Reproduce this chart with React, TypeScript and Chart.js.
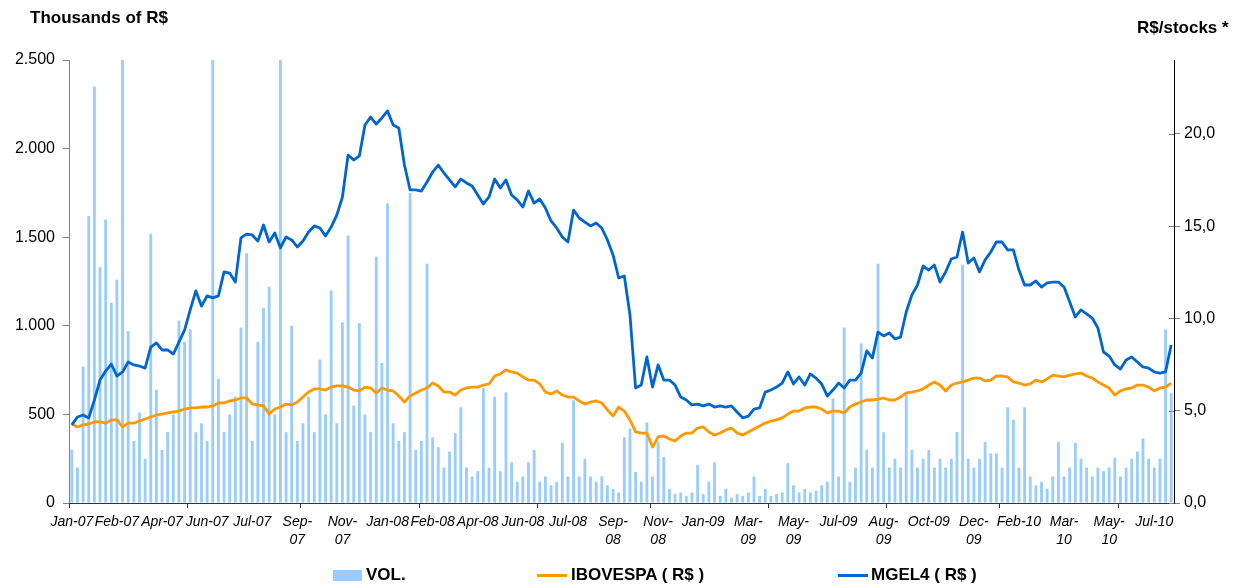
import React, { useEffect, useRef } from 'react';
import { Chart, registerables } from 'chart.js';

Chart.register(...registerables);

const FONT = "'Liberation Sans', Arial, Helvetica, sans-serif";

// x-axis category labels, one every LABEL_EVERY points
const tickLabels = [
  'Jan-07', 'Feb-07', 'Apr-07', 'Jun-07', 'Jul-07', 'Sep-\n07', 'Nov-\n07',
  'Jan-08', 'Feb-08', 'Apr-08', 'Jun-08', 'Jul-08', 'Sep-\n08', 'Nov-\n08',
  'Jan-09', 'Mar-\n09', 'May-\n09', 'Jul-09', 'Aug-\n09', 'Oct-09', 'Dec-\n09',
  'Feb-10', 'Mar-\n10', 'May-\n10', 'Jul-10',
];
const LABEL_EVERY = 8;

// indices where Excel-style tick marks sit on the category axis
const axisTickMarks = [0, 21, 41, 62, 83, 103, 124, 145, 165, 186];

// Volume, thousands of R$
const volume = [
  300, 200, 770, 1620, 2350, 1330, 1600, 1130, 1260, 2600,
  970, 350, 510, 250, 1520, 640, 300, 400, 500, 1030,
  910, 980, 400, 450, 350, 2600, 700, 400, 500, 600,
  990, 1410, 350, 910, 1100, 1220, 500, 2600, 400, 1000,
  350, 450, 600, 400, 810, 500, 1200, 450, 1020, 1510,
  550, 1015, 500, 400, 1390, 790, 1690, 450, 350, 400,
  1750, 300, 350, 1350, 370, 315, 200, 290, 395, 540,
  200, 150, 180, 650, 200, 600, 180, 625, 230, 120,
  150, 230, 300, 120, 150, 100, 120, 340, 150, 580,
  150, 250, 150, 120, 150, 100, 80, 60, 370, 420,
  175, 120, 455, 150, 345, 260, 80, 50, 60, 40,
  60, 215, 50, 120, 230, 40, 80, 30, 50, 40,
  60, 150, 40, 80, 40, 50, 60, 225, 100, 60,
  80, 60, 70, 100, 120, 590, 150, 990, 120, 200,
  900, 300, 200, 1350, 400, 200, 250, 200, 615, 300,
  200, 250, 300, 200, 250, 200, 250, 400, 1345, 250,
  200, 250, 345, 280, 280, 200, 540, 470, 200, 540,
  150, 100, 120, 80, 150, 345, 150, 200, 340, 250,
  200, 150, 200, 180, 200, 255, 150, 200, 250, 290,
  365, 250, 200, 250, 980, 620,
];

// IBOVESPA rebased, R$
const ibovespa = [
  4.28, 4.12, 4.23, 4.28, 4.39, 4.39, 4.33, 4.50, 4.50, 4.12,
  4.33, 4.33, 4.44, 4.55, 4.66, 4.77, 4.82, 4.88, 4.93, 4.98,
  5.09, 5.15, 5.15, 5.20, 5.20, 5.26, 5.42, 5.42, 5.53, 5.58,
  5.69, 5.69, 5.36, 5.31, 5.26, 4.82, 5.09, 5.20, 5.36, 5.31,
  5.47, 5.74, 6.01, 6.18, 6.18, 6.12, 6.28, 6.34, 6.34, 6.28,
  6.12, 6.07, 6.28, 6.23, 5.96, 6.23, 6.12, 6.07, 5.80, 5.47,
  5.80, 5.96, 6.12, 6.23, 6.50, 6.34, 6.01, 6.01, 5.85, 6.12,
  6.23, 6.28, 6.28, 6.39, 6.45, 6.88, 6.99, 7.21, 7.10, 7.04,
  6.83, 6.66, 6.66, 6.45, 6.01, 5.91, 6.07, 5.85, 5.74, 5.74,
  5.53, 5.36, 5.47, 5.53, 5.42, 5.04, 4.71, 5.20, 4.98, 4.50,
  3.85, 3.79, 3.79, 3.03, 3.58, 3.63, 3.47, 3.36, 3.63, 3.79,
  3.79, 4.06, 4.12, 3.85, 3.68, 3.79, 3.96, 4.06, 3.79, 3.68,
  3.85, 4.01, 4.17, 4.33, 4.44, 4.50, 4.61, 4.82, 4.98, 4.98,
  5.15, 5.20, 5.20, 5.09, 4.88, 4.98, 4.98, 4.88, 5.20, 5.36,
  5.47, 5.58, 5.58, 5.63, 5.69, 5.58, 5.58, 5.74, 5.96, 6.01,
  6.07, 6.18, 6.39, 6.56, 6.39, 6.07, 6.39, 6.50, 6.56, 6.66,
  6.77, 6.77, 6.61, 6.66, 6.88, 6.88, 6.83, 6.56, 6.50, 6.39,
  6.45, 6.66, 6.56, 6.72, 6.93, 6.88, 6.83, 6.93, 6.99, 7.04,
  6.88, 6.77, 6.56, 6.39, 6.23, 5.85, 6.07, 6.18, 6.23, 6.39,
  6.39, 6.28, 6.07, 6.23, 6.28, 6.50,
];

// MGEL4 share price, R$
const mgel4 = [
  4.23, 4.66, 4.77, 4.61, 5.58, 6.66, 7.15, 7.53, 6.88, 7.10,
  7.64, 7.48, 7.42, 7.31, 8.45, 8.67, 8.29, 8.29, 8.07, 8.72,
  9.37, 10.46, 11.49, 10.67, 11.22, 11.11, 11.22, 12.52, 12.46, 11.97,
  14.36, 14.57, 14.52, 14.19, 15.06, 14.14, 14.63, 13.82, 14.41, 14.25,
  13.87, 14.19, 14.68, 15.01, 14.90, 14.47, 14.95, 15.60, 16.58, 18.85,
  18.58, 18.80, 20.48, 20.91, 20.53, 20.86, 21.24, 20.48, 20.32, 18.31,
  16.96, 16.96, 16.90, 17.39, 17.93, 18.31, 17.88, 17.50, 17.12, 17.55,
  17.34, 17.18, 16.69, 16.20, 16.58, 17.55, 17.07, 17.50, 16.69, 16.42,
  16.04, 16.90, 16.25, 16.47, 15.98, 15.28, 14.90, 14.41, 14.14, 15.87,
  15.44, 15.22, 15.01, 15.17, 14.90, 14.25, 13.44, 12.19, 12.30, 10.19,
  6.23, 6.39, 7.91, 6.28, 7.48, 6.66, 6.66, 6.39, 5.74, 5.58,
  5.31, 5.36, 5.26, 5.36, 5.20, 5.26, 5.20, 5.26, 4.93, 4.61,
  4.71, 5.09, 5.15, 6.01, 6.12, 6.28, 6.50, 7.10, 6.45, 6.83,
  6.39, 6.99, 6.77, 6.45, 5.80, 6.12, 6.50, 6.23, 6.66, 6.66,
  7.04, 8.24, 7.86, 9.26, 9.05, 9.21, 8.89, 8.99, 10.35, 11.27,
  11.81, 12.84, 12.62, 12.89, 11.97, 12.52, 13.22, 13.33, 14.68, 13.00,
  13.27, 12.52, 13.17, 13.60, 14.14, 14.14, 13.71, 13.71, 12.62, 11.81,
  11.81, 12.03, 11.70, 11.92, 11.97, 11.97, 11.70, 10.89, 10.08, 10.46,
  10.24, 10.02, 9.48, 8.18, 7.96, 7.48, 7.26, 7.75, 7.91, 7.64,
  7.37, 7.31, 7.10, 7.04, 7.10, 8.56,
];

const VOL_COLOR = '#99CCFF';
const IBOV_COLOR = '#FF9900';
const MGEL_COLOR = '#0066CC';

function fmtThousands(v: number): string {
  if (v >= 1000) {
    const k = Math.floor(v / 1000);
    const r = Math.round(v % 1000);
    return `${k}.${String(r).padStart(3, '0')}`;
  }
  return String(v);
}

const axisMarks = {
  id: 'axisMarks',
  afterDraw(chart: any) {
    const { ctx, chartArea } = chart;
    const x = chart.scales.x;
    const yPrice = chart.scales.yPrice;
    ctx.save();
    ctx.lineWidth = 1;
    ctx.strokeStyle = '#333';
    const half = (x.getPixelForValue(1) - x.getPixelForValue(0)) / 2;
    for (const k of axisTickMarks) {
      const px = Math.round(x.getPixelForValue(k) - half) + 0.5;
      ctx.beginPath();
      ctx.moveTo(px, chartArea.bottom);
      ctx.lineTo(px, chartArea.bottom + 5);
      ctx.stroke();
    }
    // inner half of the right-axis crossing tick marks
    ctx.strokeStyle = '#808080';
    for (const t of yPrice.ticks) {
      const py = Math.round(yPrice.getPixelForValue(t.value)) + 0.5;
      ctx.beginPath();
      ctx.moveTo(chartArea.right - 5, py);
      ctx.lineTo(chartArea.right, py);
      ctx.stroke();
    }
    ctx.restore();
  },
};

export default function App() {
  const ref = useRef<HTMLCanvasElement>(null);

  useEffect(() => {
    const labels = volume.map((_, i) =>
      i % LABEL_EVERY === 0 ? tickLabels[i / LABEL_EVERY] ?? '' : ''
    );
    const chart = new Chart(ref.current as HTMLCanvasElement, {
      type: 'bar',
      data: {
        labels,
        datasets: [
          {
            type: 'line',
            label: 'MGEL4 ( R$ )',
            data: mgel4,
            yAxisID: 'yPrice',
            borderColor: MGEL_COLOR,
            backgroundColor: MGEL_COLOR,
            borderWidth: 2.8,
            pointRadius: 0,
            tension: 0,
            borderJoinStyle: 'round',
            order: 1,
          } as any,
          {
            type: 'line',
            label: 'IBOVESPA ( R$ )',
            data: ibovespa,
            yAxisID: 'yPrice',
            borderColor: IBOV_COLOR,
            backgroundColor: IBOV_COLOR,
            borderWidth: 2.8,
            pointRadius: 0,
            tension: 0,
            borderJoinStyle: 'round',
            order: 2,
          } as any,
          {
            type: 'bar',
            label: 'VOL.',
            data: volume,
            yAxisID: 'yVol',
            backgroundColor: VOL_COLOR,
            barPercentage: 0.5,
            categoryPercentage: 1,
            order: 3,
          } as any,
        ],
      },
      options: {
        animation: false,
        responsive: false,
        layout: { padding: { top: 60, left: 0, right: 0, bottom: 0 } },
        plugins: {
          legend: { display: false },
          tooltip: { enabled: false },
        },
        scales: {
          x: {
            type: 'category',
            offset: true,
            grid: { display: false, drawTicks: false },
            border: { display: true, color: '#333', width: 1 },
            ticks: {
              autoSkip: false,
              maxRotation: 0,
              minRotation: 0,
              padding: 10,
              color: '#000',
              font: { family: FONT, size: 14, style: 'italic', lineHeight: 1.3 },
              callback: (_v: any, i: number) => {
                const l = labels[i];
                return l.includes('\n') ? l.split('\n') : l;
              },
            },
            afterFit: (s: any) => {
              s.height = 83;
            },
          },
          yVol: {
            type: 'linear',
            position: 'left',
            min: 0,
            max: 2500,
            grid: { drawOnChartArea: false, tickLength: 6, color: '#808080' },
            border: { display: true, color: '#808080', width: 1 },
            ticks: {
              stepSize: 500,
              padding: 8,
              color: '#000',
              font: { family: FONT, size: 16 },
              callback: (v: any) => fmtThousands(Number(v)),
            },
            afterFit: (s: any) => {
              s.width = 69;
            },
          },
          yPrice: {
            type: 'linear',
            position: 'right',
            min: 0,
            max: 24,
            grid: { drawOnChartArea: false, tickLength: 6, color: '#808080' },
            border: { display: true, color: '#000', width: 1 },
            ticks: {
              stepSize: 5,
              includeBounds: false,
              padding: 4,
              color: '#000',
              font: { family: FONT, size: 16 },
              callback: (v: any) => Number(v).toFixed(1).replace('.', ','),
            },
            afterFit: (s: any) => {
              s.width = 68;
            },
          },
        } as any,
      },
      plugins: [axisMarks],
    });
    return () => chart.destroy();
  }, []);

  const boldText: React.CSSProperties = {
    position: 'absolute',
    fontFamily: FONT,
    fontWeight: 'bold',
    fontSize: 17,
    color: '#000',
    whiteSpace: 'nowrap',
    lineHeight: '20px',
  };

  return (
    <div style={{ position: 'fixed', left: 0, top: 0, width: 1242, height: 586, background: '#fff' }}>
      <canvas ref={ref} width={1242} height={586} style={{ position: 'absolute', left: 0, top: 0 }} />
      <div style={{ ...boldText, left: 30, top: 8 }}>Thousands of R$</div>
      <div style={{ ...boldText, left: 1137, top: 18 }}>R$/stocks *</div>
      {/* legend */}
      <div style={{ position: 'absolute', left: 333, top: 570, width: 29, height: 11, background: VOL_COLOR }} />
      <div style={{ ...boldText, left: 366, top: 565 }}>VOL.</div>
      <div style={{ position: 'absolute', left: 537, top: 574, width: 30, height: 3, background: IBOV_COLOR }} />
      <div style={{ ...boldText, left: 571, top: 565 }}>IBOVESPA ( R$ )</div>
      <div style={{ position: 'absolute', left: 838, top: 574, width: 30, height: 3, background: MGEL_COLOR }} />
      <div style={{ ...boldText, left: 871, top: 565 }}>MGEL4 ( R$ )</div>
    </div>
  );
}
